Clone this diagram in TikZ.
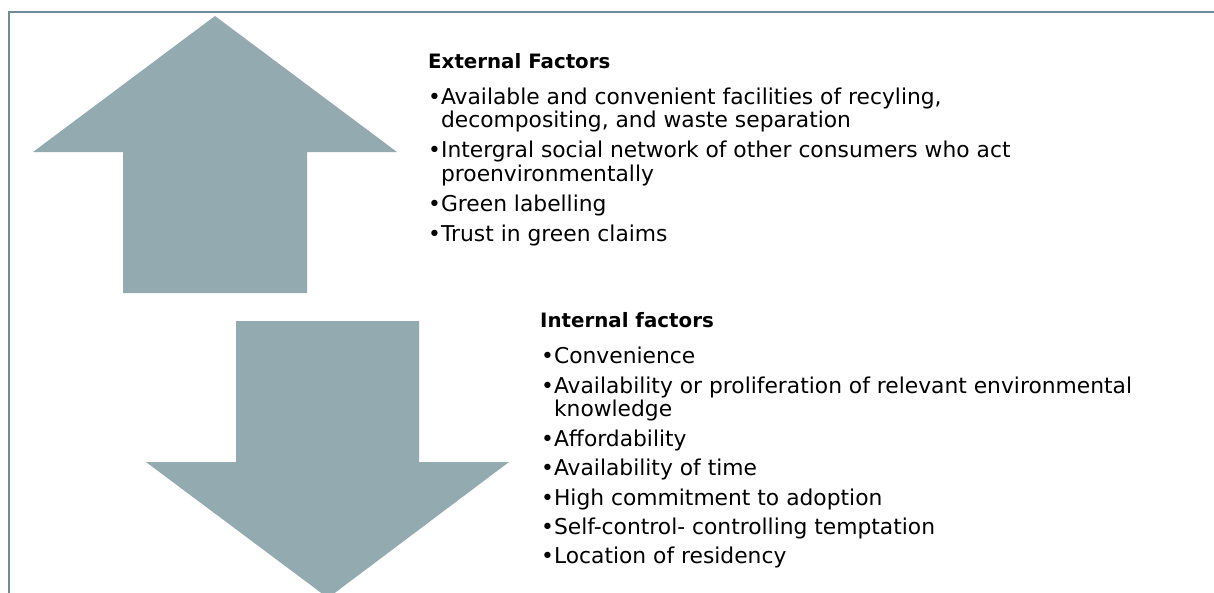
\documentclass[tikz,border=0pt]{standalone}
\usepackage{fontspec}
\setmainfont{DejaVu Sans}
\usetikzlibrary{positioning}

\definecolor{arrowfill}{RGB}{147,170,176}
\definecolor{framecol}{RGB}{112,140,150}

\tikzset{
  head/.style={anchor=base west, inner sep=0pt, font=\fontsize{19.8}{23}\selectfont\bfseries},
  items/.style={anchor=base west, inner sep=0pt, font=\fontsize{21.8}{23.5}\selectfont},
}

\begin{document}
\begin{tikzpicture}[x=1pt,y=-1pt]
        \clip (0,0) rectangle (1214,592);
        \fill[white] (0,0) rectangle (1214,592);
        \draw[framecol, line width=1.6pt] (9,700) -- (9,12) -- (1300,12);
        % up arrow
        \fill[arrowfill] (215,16) -- (397,152) -- (307,152) -- (307,293)
            -- (123,293) -- (123,152) -- (33,152) -- cycle;
        % down arrow
        \fill[arrowfill] (236,321) -- (419,321) -- (419,462) -- (509,462)
            -- (328,598) -- (146,462) -- (236,462) -- cycle;
        \node[head] (ext) at (428,68) {External Factors};
        \node[items] (extlist) at (428,104) {\begin{tabular}[t]{@{}l@{}l@{}}
            •&Available and convenient facilities of recyling,\\
             &decompositing, and waste separation\\[6.5pt]
            •&Intergral social network of other consumers who act\\
             &proenvironmentally\\[6.5pt]
            •&Green labelling\\[6pt]
            •&Trust in green claims
            \end{tabular}};
        \node[head] (int) at (540,327) {Internal factors};
        \node[items] (intlist) at (541,363) {\begin{tabular}[t]{@{}l@{}l@{}}
            •&Convenience\\[6.5pt]
            •&Availability or proliferation of relevant environmental\\
             &knowledge\\[6.5pt]
            •&Affordability\\[5.5pt]
            •&Availability of time\\[5.5pt]
            •&High commitment to adoption\\[5.5pt]
            •&Self-control- controlling temptation\\[5.5pt]
            •&Location of residency
            \end{tabular}};
\end{tikzpicture}
\end{document}
